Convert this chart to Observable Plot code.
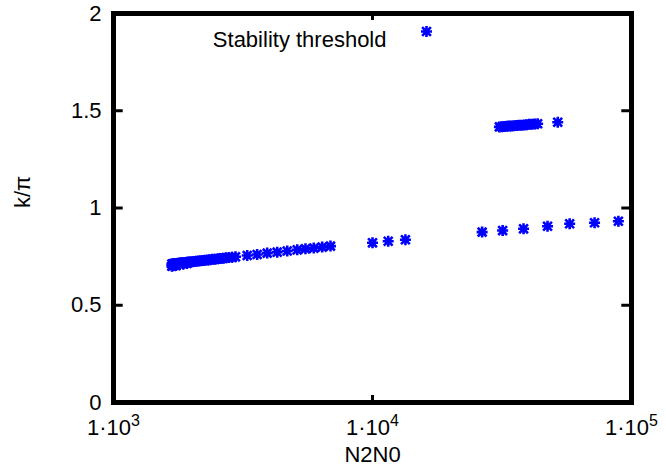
<!DOCTYPE html>
<html><head><meta charset="utf-8">
<script src="https://cdn.jsdelivr.net/npm/d3@7"></script>
<script src="https://cdn.jsdelivr.net/npm/@observablehq/plot@0.6"></script>
<style>body{margin:0;background:#fff}#chart{width:666px;height:471px}</style>
</head><body><div id="chart"></div>
<script>
// Lower branch (dense part + spaced points)
const lowerN = [1680,1700,1720,1740,1760,1780,1800,1830,1860,1890,1920,1950,1980,2010,2050,2090,2130,2170,2210,2260,2310,2360,2410,2470,2530,2590,2650,2720,2790,2870,
  1680,1700,1740,1800,1860,1920,
  2958,3283,3587,3922,4286,4686,5122,5511,5934,6394,6883,
  10000,11500,13400,
  26500,31800,38300,47400,57700,72000,89000];
const lowerK = [0.712,0.713,0.714,0.714,0.715,0.716,0.717,0.718,0.719,0.720,0.721,0.722,0.723,0.724,0.725,0.726,0.728,0.729,0.730,0.731,0.733,0.734,0.736,0.737,0.739,0.740,0.742,0.744,0.745,0.747,
  0.701,0.703,0.705,0.708,0.712,0.715,
  0.749,0.756,0.761,0.768,0.773,0.779,0.785,0.790,0.794,0.799,0.804,
  0.821,0.829,0.837,
  0.876,0.884,0.893,0.906,0.919,0.924,0.932];
// Upper branch
const upperN = [30900,31600,32300,33000,33700,34400,35200,36000,36800,37600,38500,39400,40300,41300,42300,43400,51900];
const upperK = [1.417,1.418,1.419,1.420,1.421,1.422,1.423,1.424,1.425,1.426,1.427,1.428,1.430,1.431,1.432,1.433,1.441];

const xTicks = [1e3, 1e4, 1e5];
const yTicks = [0, 0.5, 1, 1.5, 2];
const xLabel = "N2N0";
const yLabel = "k/π";
const legendLabel = "Stability threshold";

const data = lowerN.map((n, i) => ({n, k: lowerK[i]}))
  .concat(upperN.map((n, i) => ({n, k: upperK[i]})));

const star = {
  draw(ctx, size) {
    const r = Math.sqrt(size / Math.PI), d = r * 0.8;
    ctx.moveTo(-r, 0); ctx.lineTo(r, 0);
    ctx.moveTo(0, -r); ctx.lineTo(0, r);
    ctx.moveTo(-d, -d); ctx.lineTo(d, d);
    ctx.moveTo(-d, d); ctx.lineTo(d, -d);
  }
};

const blue = "#0000ff";
const FS = 22;

const chart = Plot.plot({
  width: 666, height: 471,
  marginLeft: 113, marginRight: 35, marginTop: 13, marginBottom: 69,
  style: {fontFamily: "'Liberation Sans', Arial, Helvetica, sans-serif", fontSize: FS + "px", color: "black", background: "white"},
  x: {type: "log", domain: [1e3, 1e5]},
  y: {domain: [0, 2]},
  marks: [
    Plot.axisX({ticks: xTicks, tickSize: 0, tickPadding: 17, fontSize: FS, label: null, tickFormat: d => "1·10^" + Math.round(Math.log10(d))}),
    Plot.axisY({ticks: yTicks, tickSize: 0, tickPadding: 12, fontSize: FS, label: null, tickFormat: d => String(d)}),
    Plot.ruleX(xTicks, {y1: 0, y2: 0.036, stroke: "black", strokeWidth: 3}),
    Plot.ruleX(xTicks, {y1: 2, y2: 1.964, stroke: "black", strokeWidth: 3}),
    Plot.ruleY(yTicks, {x1: 1e3, x2: 1090, stroke: "black", strokeWidth: 3}),
    Plot.ruleY(yTicks, {x1: 1e5, x2: 1e5 / 1.09, stroke: "black", strokeWidth: 3}),
    Plot.dot(data, {x: "n", y: "k", symbol: star, r: 5.5, fill: "none", stroke: blue, strokeWidth: 2.6}),
    Plot.frame({stroke: "black", strokeWidth: 5}),
    Plot.text([legendLabel], {text: d => d, frameAnchor: "top-left", dx: 273, dy: 18, textAnchor: "end", fontSize: FS, fill: "black"}),
    Plot.dot([legendLabel], {frameAnchor: "top-left", dx: 313, dy: 18, symbol: star, r: 5.5, fill: "none", stroke: blue, strokeWidth: 2.6}),
    Plot.text([xLabel], {text: d => d, frameAnchor: "bottom", dy: 59, fontSize: FS, fill: "black"}),
    Plot.text([yLabel], {text: d => d, frameAnchor: "left", dx: -91, rotate: -90, fontSize: FS, fill: "black"})
  ]
});

// superscript exponents on x tick labels
chart.querySelectorAll("text").forEach(t => {
  const s = t.textContent;
  if (s.includes("^")) {
    const [base, exp] = s.split("^");
    t.textContent = base;
    const ts = document.createElementNS("http://www.w3.org/2000/svg", "tspan");
    ts.setAttribute("dy", "-9");
    ts.setAttribute("font-size", "16");
    ts.textContent = exp;
    t.appendChild(ts);
  }
});

document.getElementById("chart").appendChild(chart);
</script>
</body></html>
